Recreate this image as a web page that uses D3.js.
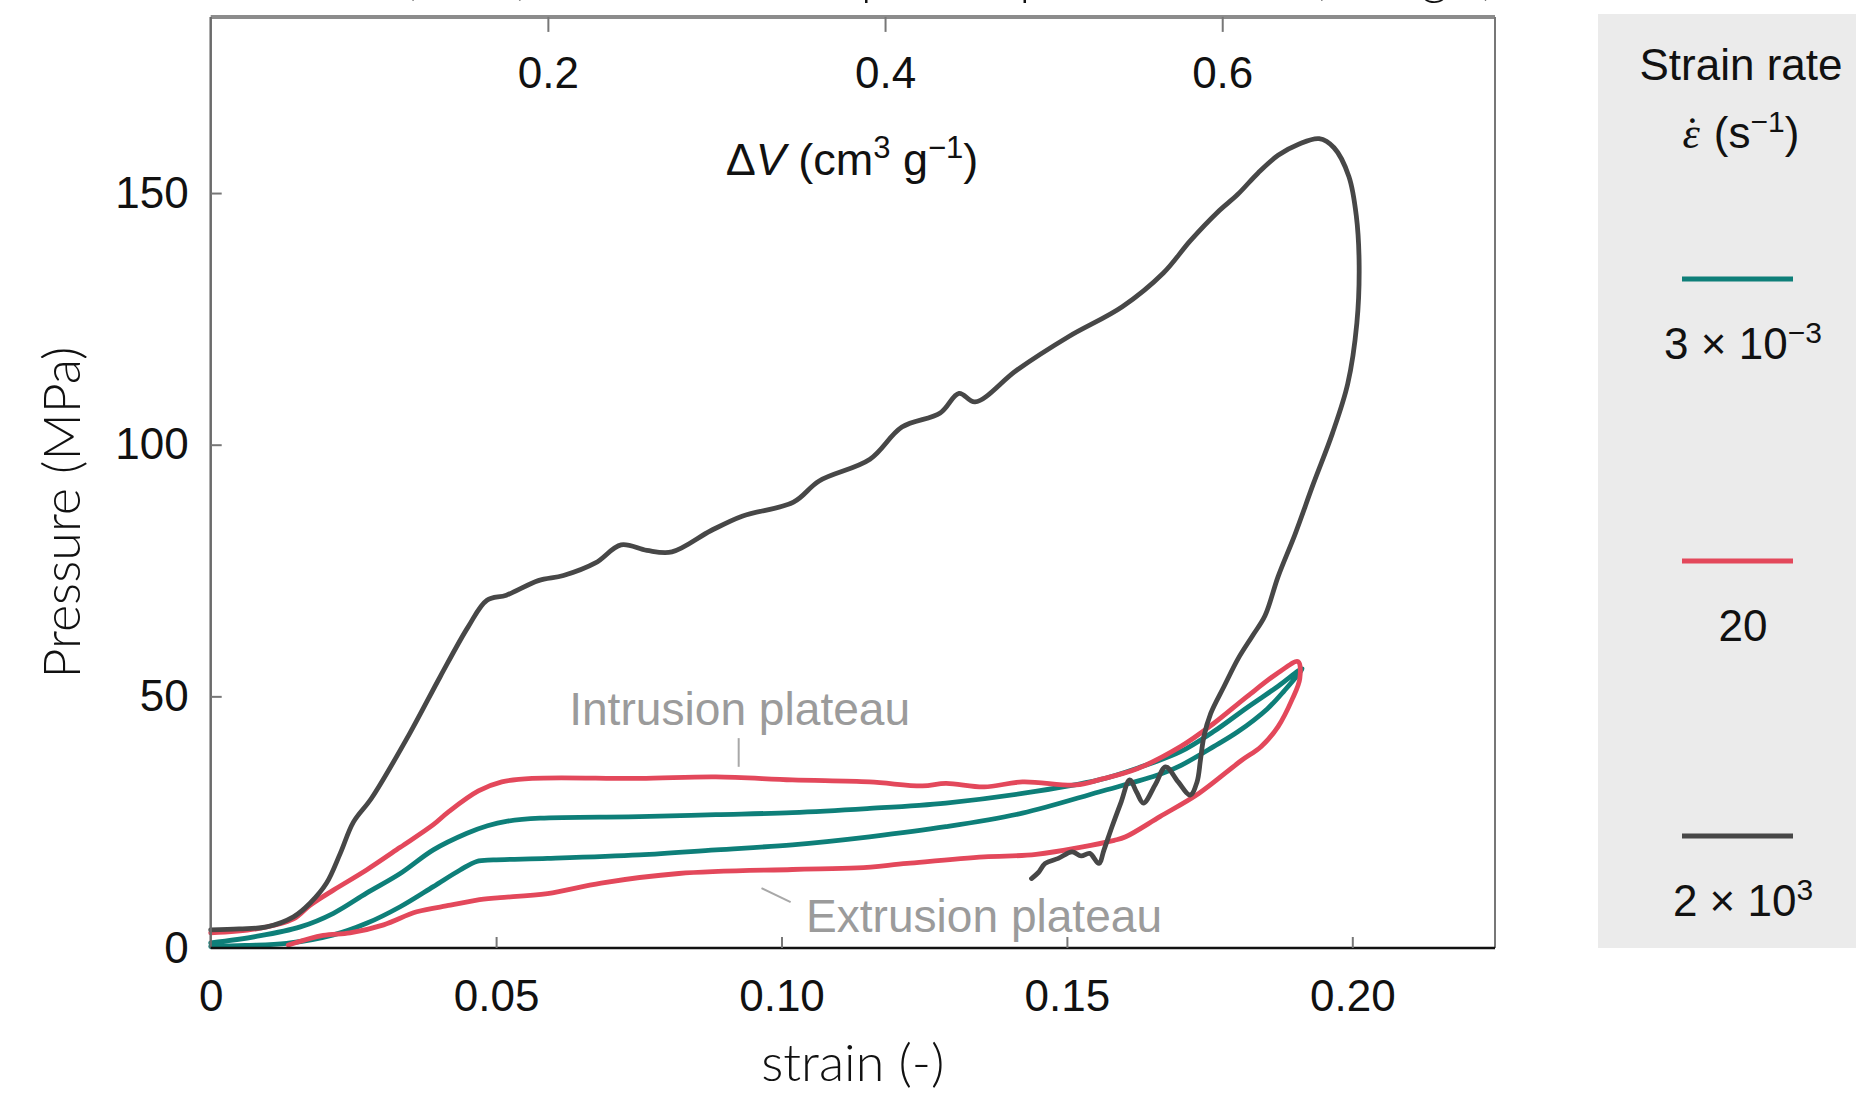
<!DOCTYPE html>
<html>
<head>
  <meta charset="utf-8">
  <title>Pressure vs strain</title>
  <script src="https://d3js.org/d3.v7.min.js"></script>
  <style>
    body { margin: 0; background: #fff; }
  </style>
</head>
<body>
  <div id="chart"></div>

  <script>
    // ticks
    var strainTicks = [0, 0.05, 0.10, 0.15, 0.20];
    var strainTickLabels = ["0", "0.05", "0.10", "0.15", "0.20"];
    var pressureTicks = [0, 50, 100, 150];
    var volumeTicks = [0.2, 0.4, 0.6];

    // legend
    var rateNames = ["3e-3", "20", "2e3"];
    var rateColors = ["#0e7f79", "#e3485b", "#474747"];

    // [strain, pressure MPa], loading then unloading
    var rateSlow = [
      [0, 1.0], [0.008, 2.3], [0.0157, 4.2], [0.0215, 6.9], [0.0273, 10.9], [0.0332, 14.8],
      [0.039, 19.5], [0.0449, 22.8], [0.0485, 24.3], [0.052, 25.2], [0.0577, 25.8], [0.0751, 26.1],
      [0.0885, 26.5], [0.1019, 26.9], [0.115, 27.7], [0.1288, 28.8], [0.1422, 30.7], [0.1556, 33.4],
      [0.163, 36.0], [0.1699, 39.0], [0.1757, 43.0], [0.1816, 47.8], [0.187, 52.0], [0.1912, 55.5],
      [0.188, 51.0], [0.1851, 47.5], [0.18, 43.0], [0.1757, 40.0], [0.17, 36.3], [0.1663, 34.5],
      [0.1556, 31.0], [0.1422, 26.8], [0.1288, 24.1], [0.1154, 22.1], [0.1019, 20.5], [0.0885, 19.5],
      [0.0751, 18.5], [0.059, 17.8], [0.0495, 17.5], [0.0466, 17.2], [0.0437, 15.5], [0.039, 12.2],
      [0.0332, 8.2], [0.0273, 4.9], [0.0215, 2.6], [0.0133, 0.9], [0.006, 0.5], [0, 0.3]
    ];

    var rateMid = [
      [0, 3.0], [0.008, 3.8], [0.0145, 5.8], [0.0174, 8.5], [0.0215, 11.5], [0.0273, 15.5],
      [0.0332, 20.0], [0.039, 24.5], [0.0416, 27.0], [0.0469, 31.2], [0.051, 33.0], [0.0563, 33.7],
      [0.0751, 33.7], [0.0885, 34.0], [0.1019, 33.4], [0.1154, 33.0], [0.1247, 32.2], [0.1288, 32.7],
      [0.1355, 32.0], [0.1422, 33.0], [0.1516, 32.4], [0.1556, 33.4], [0.1623, 35.6], [0.1699, 40.0],
      [0.1757, 44.6], [0.1816, 50.0], [0.1874, 55.0], [0.1905, 56.9],
      [0.1908, 53.5], [0.1895, 49.5], [0.187, 44.0], [0.184, 40.0], [0.1805, 37.2], [0.1731, 30.7],
      [0.1663, 26.1], [0.1603, 22.1], [0.1583, 21.4], [0.1446, 18.6], [0.1355, 18.1], [0.122, 16.8],
      [0.1133, 15.9], [0.1019, 15.6], [0.082, 14.8], [0.0684, 12.9], [0.059, 10.8], [0.0507, 10.0],
      [0.0478, 9.7], [0.042, 8.5], [0.0361, 7.2], [0.0303, 4.6], [0.0244, 3.0], [0.0197, 2.5], [0.0136, 0.6]
    ];

    var rateFast = [
      [0, 3.6], [0.005, 3.8], [0.0098, 4.2], [0.0145, 6.2], [0.0174, 8.9], [0.0203, 12.9],
      [0.0227, 18.8], [0.025, 25.0], [0.0282, 29.8], [0.0349, 42.7], [0.0402, 53.9], [0.0451, 63.8],
      [0.0484, 69.1], [0.0518, 70.1], [0.0574, 73.0], [0.0618, 74.0], [0.0674, 76.5], [0.0719, 80.1],
      [0.0764, 79.0], [0.0808, 78.7], [0.0876, 82.9], [0.0931, 85.8], [0.1021, 88.6], [0.1066, 92.8],
      [0.1155, 97.1], [0.1211, 103.5], [0.1278, 106.3], [0.1311, 110.2], [0.1339, 108.5], [0.1412, 114.8],
      [0.1502, 121.4], [0.1597, 127.4], [0.1669, 134.1], [0.1716, 140.5], [0.1764, 146.2], [0.1799, 149.7],
      [0.1835, 154.0], [0.187, 157.5], [0.1906, 159.7], [0.1942, 160.8], [0.1968, 159.0], [0.1994, 153.3],
      [0.2007, 145.5], [0.2012, 135.6], [0.2008, 124.2], [0.1992, 112.1], [0.1965, 102.2], [0.1932, 92.3],
      [0.19, 82.3], [0.187, 73.8], [0.1847, 66.0], [0.1825, 62.0], [0.18, 57.5], [0.1775, 51.9],
      [0.1752, 46.6], [0.174, 42.0], [0.1734, 37.4], [0.1728, 33.0], [0.1716, 30.4], [0.1695, 33.0],
      [0.1673, 36.0], [0.1655, 32.5], [0.1634, 28.8], [0.1622, 31.0], [0.161, 33.4], [0.1595, 29.0],
      [0.1579, 24.1], [0.1565, 19.5], [0.1556, 16.8], [0.154, 18.8], [0.1525, 18.3], [0.1509, 19.1],
      [0.1485, 17.8], [0.1462, 16.8], [0.145, 15.0], [0.1438, 13.8]
    ];

    // annotation text in data coordinates
    var notes = [
      { text: "Intrusion plateau", strain: 0.0628, pressure: 44.3, width: 341, line: [[0.0925, 36.0], [0.0925, 41.7]] },
      { text: "Extrusion plateau", strain: 0.1043, pressure: 3.2, width: 356, line: [[0.0965, 11.9], [0.1016, 9.1]] }
    ];

    var width = 1856, height = 1106;
    var margin = { left: 210.7, right: 361, top: 16.9, bottom: 158 };

    var svg = d3.select("#chart")
      .append("svg")
      .attr("width", width)
      .attr("height", height)
      .style("font-family", "'Liberation Sans', Arial, sans-serif");

    svg.append("rect").attr("width", width).attr("height", height).attr("fill", "#fff");

    var x = d3.scaleLinear()
      .domain([0, 0.225])
      .range([margin.left, width - margin.right]);

    var y = d3.scaleLinear()
      .domain([0, 185])
      .range([height - margin.bottom, margin.top]);

    var xTop = d3.scaleLinear()
      .domain([0, 0.7618])
      .range([margin.left, width - margin.right]);

    // title cut off by the top edge, as in the source image
    svg.append("text")
      .attr("x", 1496)
      .attr("y", -6)
      .attr("text-anchor", "end")
      .attr("font-family", "Lato, 'Open Sans', sans-serif")
      .attr("font-weight", 300)
      .attr("font-size", 52)
      .attr("fill", "#111")
      .text("Pressure (MPa) vs strain and specific pore volume (cm³ g⁻¹)");

    // lines
    var line = d3.line()
      .x(d => x(d[0]))
      .y(d => y(d[1]))
      .curve(d3.curveCatmullRom.alpha(0.5));

    [rateSlow, rateMid, rateFast].forEach(function(s, i) {
      svg.append("path")
        .datum(s)
        .attr("fill", "none")
        .attr("stroke", rateColors[i])
        .attr("stroke-width", 4.8)
        .attr("stroke-linejoin", "round")
        .attr("stroke-linecap", "round")
        .attr("d", line);
    });

    // frame
    var x0 = x.range()[0], x1 = x.range()[1], y0 = y.range()[0], y1 = y.range()[1];
    svg.append("line").attr("x1", x0).attr("x2", x1).attr("y1", y1).attr("y2", y1)
      .attr("stroke", "#8c8c8c").attr("stroke-width", 4);
    svg.append("line").attr("x1", x1).attr("x2", x1).attr("y1", y1).attr("y2", y0)
      .attr("stroke", "#777").attr("stroke-width", 2);
    svg.append("line").attr("x1", x0).attr("x2", x0).attr("y1", y1).attr("y2", y0)
      .attr("stroke", "#6b6b6b").attr("stroke-width", 2.5);
    svg.append("line").attr("x1", x0).attr("x2", x1).attr("y1", y0).attr("y2", y0)
      .attr("stroke", "#111").attr("stroke-width", 2.5);

    // axes
    var gx = svg.append("g")
      .attr("transform", "translate(0," + y0 + ")")
      .call(d3.axisBottom(x).tickValues(strainTicks)
        .tickFormat((d, i) => strainTickLabels[i])
        .tickSize(-11).tickPadding(32));

    var gy = svg.append("g")
      .attr("transform", "translate(" + x0 + ",0)")
      .call(d3.axisLeft(y).tickValues(pressureTicks).tickSize(-11).tickPadding(22));

    var gt = svg.append("g")
      .attr("transform", "translate(0," + y1 + ")")
      .call(d3.axisTop(xTop).tickValues(volumeTicks).tickFormat(d3.format(".1f"))
        .tickSize(-15).tickPadding(-71));

    [gx, gy, gt].forEach(function(g) {
      g.select(".domain").remove();
      g.selectAll(".tick line").attr("stroke", "#777").attr("stroke-width", 2);
      g.selectAll(".tick text")
        .attr("font-family", "'Liberation Sans', Arial, sans-serif")
        .attr("font-size", 44)
        .attr("fill", "#111");
    });
    gx.selectAll(".tick").filter(d => d === 0).select("line").remove();
    gy.selectAll(".tick").filter(d => d === 0).select("line").remove();

    // top axis title
    var dv = svg.append("text")
      .attr("x", 852)
      .attr("y", 175)
      .attr("text-anchor", "middle")
      .attr("font-size", 45)
      .attr("fill", "#111");
    dv.append("tspan").text("Δ");
    dv.append("tspan").attr("font-style", "italic").text("V");
    dv.append("tspan").text(" (cm");
    dv.append("tspan").attr("dy", -17).attr("font-size", 31).text("3");
    dv.append("tspan").attr("dy", 17).text(" g");
    dv.append("tspan").attr("dy", -17).attr("font-size", 31).text("−1");
    dv.append("tspan").attr("dy", 17).text(")");

    // axis titles
    svg.append("text")
      .attr("x", (x0 + x1) / 2)
      .attr("y", 1081)
      .attr("text-anchor", "middle")
      .attr("font-family", "Lato, 'Open Sans', sans-serif")
      .attr("font-weight", 300)
      .attr("font-size", 52)
      .attr("fill", "#111")
      .text("strain (-)");

    svg.append("text")
      .attr("transform", "rotate(-90)")
      .attr("x", -(y0 + y1) / 2 - 30)
      .attr("y", 80)
      .attr("text-anchor", "middle")
      .attr("font-family", "Lato, 'Open Sans', sans-serif")
      .attr("font-weight", 300)
      .attr("font-size", 52)
      .attr("fill", "#111")
      .text("Pressure (MPa)");

    // annotations
    notes.forEach(function(n) {
      svg.append("text")
        .attr("x", x(n.strain))
        .attr("y", y(n.pressure))
        .attr("font-family", "'Liberation Sans Narrow', 'Liberation Sans', sans-serif")
        .attr("font-size", 46)
        .attr("fill", "#9b9b9b")
        .attr("textLength", n.width)
        .attr("lengthAdjust", "spacingAndGlyphs")
        .text(n.text);
      svg.append("line")
        .attr("x1", x(n.line[0][0])).attr("y1", y(n.line[0][1]))
        .attr("x2", x(n.line[1][0])).attr("y2", y(n.line[1][1]))
        .attr("stroke", "#a8a8a8").attr("stroke-width", 2);
    });

    // legend
    var lg = svg.append("g");
    lg.append("rect")
      .attr("x", 1598).attr("y", 14)
      .attr("width", 258).attr("height", 934)
      .attr("fill", "#ebebeb");

    lg.append("text")
      .attr("x", 1741).attr("y", 80)
      .attr("text-anchor", "middle")
      .attr("font-size", 44)
      .attr("fill", "#111")
      .text("Strain rate");

    var sub = lg.append("text")
      .attr("x", 1741).attr("y", 148)
      .attr("text-anchor", "middle")
      .attr("font-size", 44)
      .attr("fill", "#111");
    sub.append("tspan").attr("font-family", "'Liberation Serif', serif").attr("font-style", "italic").text("ε");
    sub.append("tspan").attr("font-family", "'Liberation Serif', serif").attr("dx", -15).text("˙");
    sub.append("tspan").attr("dx", 2).text(" (s");
    sub.append("tspan").attr("dy", -16).attr("font-size", 30).text("−1");
    sub.append("tspan").attr("dy", 16).text(")");

    var legendY = [279, 561, 836];
    rateNames.forEach(function(name, i) {
      lg.append("line")
        .attr("x1", 1682).attr("x2", 1793)
        .attr("y1", legendY[i]).attr("y2", legendY[i])
        .attr("stroke", rateColors[i]).attr("stroke-width", 5);

      var t = lg.append("text")
        .attr("x", 1743).attr("y", legendY[i] + 80)
        .attr("text-anchor", "middle")
        .attr("font-size", 44)
        .attr("fill", "#111");
      if (name === "3e-3") {
        t.append("tspan").text("3 × 10");
        t.append("tspan").attr("dy", -16).attr("font-size", 30).text("−3");
      } else if (name === "2e3") {
        t.append("tspan").text("2 × 10");
        t.append("tspan").attr("dy", -16).attr("font-size", 30).text("3");
      } else {
        t.text(name);
      }
    });
  </script>
</body>
</html>
